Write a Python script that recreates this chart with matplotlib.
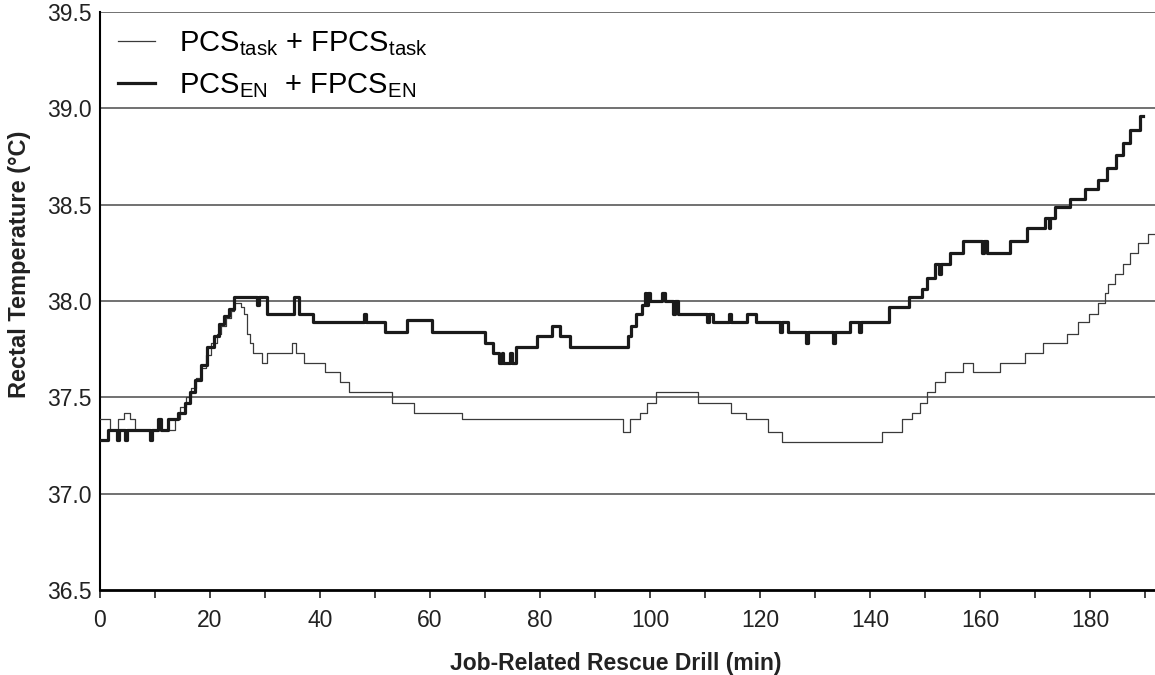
import matplotlib
matplotlib.use("Agg")
import matplotlib.pyplot as plt
from matplotlib.ticker import MultipleLocator

plt.rcParams['font.family'] = ['Liberation Sans', 'DejaVu Sans']
plt.rcParams['mathtext.fontset'] = 'custom'
plt.rcParams['mathtext.rm'] = 'Liberation Sans'

# PCS_EN + FPCS_EN : (minute where the reading changes, new temperature)
en_time = [0.0, 1.5, 3.0, 3.4, 4.6, 4.9, 9.1, 9.4, 10.5, 11.1, 12.4, 14.2, 15.5,
           16.4, 17.3, 18.4, 19.5, 20.8, 21.7, 22.6, 23.5, 24.4, 28.5, 28.9, 30.4,
           35.2, 36.2, 38.7, 48.0, 48.4, 51.8, 55.8, 60.4, 70.0, 71.5, 72.5, 73.0,
           73.3, 74.5, 74.9, 75.6, 79.5, 82.2, 83.6, 85.5, 96.0, 96.6, 97.5, 98.6,
           99.0, 99.3, 99.6, 99.9, 102.2, 102.8, 104.2, 104.5, 105.0, 110.4, 110.7,
           111.5, 114.4, 114.8, 117.6, 119.3, 123.6, 124.0, 125.0, 128.4, 128.8,
           133.2, 133.6, 136.4, 138.0, 138.3, 143.5, 147.0, 149.5, 150.4, 151.8,
           152.6, 152.9, 154.5, 156.9, 160.4, 160.7, 161.3, 165.5, 168.5, 171.8,
           172.5, 172.8, 173.6, 176.4, 179.1, 181.5, 183.1, 184.7, 186.0, 187.3,
           189.1, 189.6]
en_temp = [37.28, 37.33, 37.28, 37.33, 37.28, 37.33, 37.28, 37.33, 37.39, 37.33,
           37.39, 37.42, 37.47, 37.53, 37.59, 37.67, 37.76, 37.82, 37.88, 37.92,
           37.96, 38.02, 37.98, 38.02, 37.93, 38.02, 37.93, 37.89, 37.93, 37.89,
           37.84, 37.90, 37.84, 37.78, 37.73, 37.68, 37.73, 37.68, 37.73, 37.68,
           37.76, 37.82, 37.87, 37.82, 37.76, 37.82, 37.87, 37.93, 37.98, 38.04,
           37.98, 38.04, 38.00, 38.04, 38.00, 37.93, 38.00, 37.93, 37.89, 37.93,
           37.89, 37.93, 37.89, 37.93, 37.89, 37.84, 37.89, 37.84, 37.78, 37.84,
           37.78, 37.84, 37.89, 37.84, 37.89, 37.97, 38.02, 38.06, 38.12, 38.19,
           38.14, 38.19, 38.25, 38.31, 38.25, 38.31, 38.25, 38.31, 38.38, 38.43,
           38.38, 38.43, 38.49, 38.53, 38.58, 38.63, 38.69, 38.76, 38.82, 38.89,
           38.96, 38.96]

# PCS_task + FPCS_task
task_time = [0.0, 1.8, 3.3, 4.3, 5.5, 6.3, 13.6, 14.5, 15.6, 16.6, 17.4, 18.3,
             19.3, 20.2, 21.2, 22.0, 22.9, 23.8, 24.4, 25.6, 26.1, 26.7, 27.3,
             27.8, 29.4, 30.3, 34.9, 35.6, 37.0, 40.9, 43.6, 45.3, 53.0, 57.1,
             65.8, 95.1, 96.4, 98.2, 99.5, 101.0, 108.7, 114.7, 117.4, 121.5,
             124.0, 142.2, 145.8, 147.6, 149.1, 150.4, 151.8, 153.6, 156.9, 158.8,
             163.6, 168.2, 171.5, 175.8, 177.8, 179.8, 181.5, 182.7, 183.3, 184.5,
             186.0, 187.3, 188.7, 190.5, 191.8]
task_temp = [37.39, 37.33, 37.39, 37.42, 37.39, 37.33, 37.39, 37.45, 37.50, 37.55,
             37.60, 37.65, 37.72, 37.78, 37.83, 37.87, 37.91, 37.95, 37.99, 37.97,
             37.93, 37.83, 37.78, 37.73, 37.68, 37.73, 37.78, 37.73, 37.68, 37.63,
             37.58, 37.53, 37.47, 37.42, 37.39, 37.32, 37.39, 37.42, 37.47, 37.53,
             37.47, 37.42, 37.39, 37.32, 37.27, 37.32, 37.39, 37.42, 37.47, 37.53,
             37.58, 37.63, 37.68, 37.63, 37.68, 37.73, 37.78, 37.83, 37.89, 37.93,
             37.99, 38.04, 38.09, 38.14, 38.19, 38.25, 38.30, 38.35, 38.35]

y_ticks = [36.5, 37.0, 37.5, 38.0, 38.5, 39.0, 39.5]
x_ticks = [0, 20, 40, 60, 80, 100, 120, 140, 160, 180]

fig = plt.figure(figsize=(11.55, 6.75), dpi=100)
ax = fig.add_axes([100 / 1155, 1 - 590 / 675, 1 - 100 / 1155, (590 - 12) / 675])

# horizontal reference lines
for yv in y_ticks[1:]:
    ax.axhline(yv, color='#4a4a4a', lw=1.1, zorder=1)

ax.plot(task_time, task_temp, drawstyle='steps-post', color='#3a3a3a', lw=0.9,
        label=r'PCS$_{\mathrm{task}}$ + FPCS$_{\mathrm{task}}$', zorder=3)
ax.plot(en_time, en_temp, drawstyle='steps-post', color='#1a1a1a', lw=2.3,
        label=r'PCS$_{\mathrm{EN}}$  + FPCS$_{\mathrm{EN}}$', zorder=4)

ax.set_xlim(0, 191.8)
ax.set_ylim(36.5, 39.5)
ax.set_xticks(x_ticks)
ax.xaxis.set_minor_locator(MultipleLocator(10))
ax.set_yticks(y_ticks)
ax.set_yticklabels(['%.1f' % v for v in y_ticks])

ax.tick_params(axis='x', which='both', direction='out', length=6, width=1.2,
               labelsize=16.5, pad=8, colors='#222222')
ax.tick_params(axis='y', length=0, labelsize=16.5, pad=6, colors='#222222')

for s in ['top', 'right']:
    ax.spines[s].set_visible(False)
ax.spines['left'].set_linewidth(1.5)
ax.spines['bottom'].set_linewidth(2.0)

ax.set_xlabel('Job-Related Rescue Drill (min)', fontsize=16.5, fontweight='bold',
              color='#222222')
ax.xaxis.set_label_coords(0.489, -0.107)
ax.set_ylabel('Rectal Temperature (°C)', fontsize=17, fontweight='bold',
              color='#222222')
ax.yaxis.set_label_coords(-0.065, 0.564)

ax.legend(loc='upper left', bbox_to_anchor=(0.0, 1.0), frameon=False,
          fontsize=21, handlelength=1.3, handletextpad=0.8, labelspacing=0.45,
          borderaxespad=0.2)

fig.savefig('out.png', dpi=100)
